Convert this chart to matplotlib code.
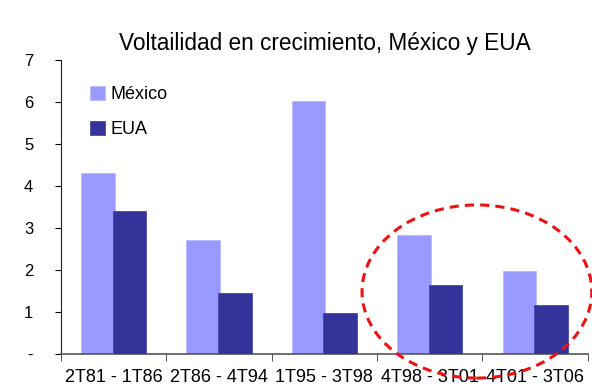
import matplotlib
matplotlib.use("Agg")
import matplotlib.pyplot as plt
from matplotlib.patches import Ellipse
import numpy as np

plt.rcParams["font.family"] = ["Liberation Sans", "DejaVu Sans"]

periods = ["2T81 - 1T86", "2T86 - 4T94", "1T95 - 3T98", "4T98 - 3T01", "4T01 - 3T06"]
mexico = [4.30, 2.72, 6.02, 2.83, 1.98]
eua = [3.41, 1.45, 0.98, 1.64, 1.18]

fig = plt.figure(figsize=(5.92, 3.87), dpi=100)
ax = fig.add_axes([0.103, 0.085, 0.890, 0.760])

x = np.arange(len(periods))
w = 0.32
ax.bar(x - 0.15, mexico, w, color="#9999FF", edgecolor="#B8B8FF", linewidth=0.6, label="México", zorder=2)
ax.bar(x + 0.15, eua, w, color="#333399", edgecolor="#4848A8", linewidth=0.6, label="EUA", zorder=3)

ax.set_xlim(-0.5, len(periods) - 0.5)
ax.set_ylim(0, 7)
ax.set_yticks(range(8))
ax.set_yticklabels(["-"] + [str(v) for v in range(1, 8)], fontsize=12)
ax.set_xticks(x)
ax.set_xticklabels(periods, fontsize=13)
ax.set_xticks(np.arange(len(periods) + 1) - 0.5, minor=True)
ax.tick_params(axis="x", which="major", length=0, pad=11)
ax.tick_params(axis="x", which="minor", length=5, direction="out", color="#333333")
ax.tick_params(axis="y", length=4, direction="out", pad=16)

for s in ["top", "right"]:
    ax.spines[s].set_visible(False)
ax.spines["bottom"].set_color("#555555")
ax.spines["bottom"].set_linewidth(1.2)
ax.spines["left"].set_color("#222222")

ax.set_title("Voltailidad en crecimiento, México y EUA", fontsize=16.3, pad=7)

leg = ax.legend(loc="upper left", bbox_to_anchor=(0.041, 0.937), borderaxespad=0,
                frameon=False, fontsize=13, handlelength=0.85, handleheight=0.85,
                labelspacing=0.97, handletextpad=0.3)

# highlight the last two periods
ring = Ellipse((3.447, 1.49), 2.18, 4.12, fill=False, edgecolor="#EE1111",
               linewidth=2.2, linestyle=(0, (3, 2)), clip_on=False, zorder=5)
ax.add_patch(ring)

fig.savefig("out.png", dpi=100)
